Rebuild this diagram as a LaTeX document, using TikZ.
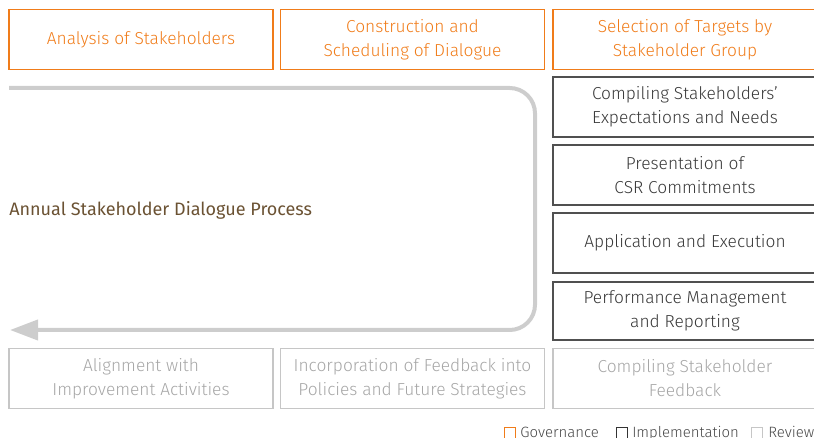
\documentclass[tikz,border=0pt]{standalone}
\usepackage{fontspec}
\setmainfont{Fira Sans}[UprightFont=* Light]
\newfontfamily\procfont{Fira Sans}
\usetikzlibrary{arrows.meta}

\definecolor{govorange}{HTML}{F07C1A}
\definecolor{impldark}{HTML}{505050}
\definecolor{revlight}{HTML}{C6C6C6}
\definecolor{revtext}{HTML}{A6A6A6}
\definecolor{flowgray}{HTML}{CDCDCD}
\definecolor{procbrown}{HTML}{6B5233}

\tikzset{
  stagebox/.style={draw, line width=0.9pt, inner sep=0pt, outer sep=0pt, align=center,
    minimum width=198pt, font=\fontsize{13}{18}\selectfont},
  govbox/.style={stagebox, draw=govorange, text=govorange, minimum height=44.5pt},
  implbox/.style={stagebox, draw=impldark, text=black!78, minimum height=45pt},
  revbox/.style={stagebox, draw=revlight, text=revtext, minimum height=45.5pt},
  legsq/.style={line width=0.8pt, minimum size=8.6pt, inner sep=0pt},
  legtext/.style={font=\fontsize{11.2}{12}\selectfont, text=black!72, anchor=base west, inner sep=0pt}
}

\begin{document}
\begin{tikzpicture}[x=0.75pt, y=-0.75pt]
    \useasboundingbox (0,0) rectangle (814,438);

    % governance row
    \node[govbox] (analysis) at (141,39.5) {Analysis of Stakeholders};
    \node[govbox] (schedule) at (412.5,39.5) {Construction and\\Scheduling of Dialogue};
    \node[govbox] (targets) at (685,39.5) {Selection of Targets by\\Stakeholder Group};

    % implementation column
    \node[implbox] (expect) at (685,107) {Compiling Stakeholders'\\Expectations and Needs};
    \node[implbox] (csr) at (685,175) {Presentation of\\CSR Commitments};
    \node[implbox] (execute) at (685,243) {Application and Execution};
    \node[implbox, minimum height=43.5pt] (perform) at (685,311) {Performance Management\\and Reporting};

    % review row
    \node[revbox] (align) at (141,378.5) {Alignment with\\Improvement Activities};
    \node[revbox] (incorp) at (412.5,378.5) {Incorporation of Feedback into\\Policies and Future Strategies};
    \node[revbox] (feedback) at (685,378.5) {Compiling Stakeholder\\Feedback};

    % the yearly loop
    \coordinate (loopstart) at (9,88);
    \coordinate (loopend) at (10,330);
    \draw[flowgray, line width=3pt, rounded corners=19pt, -{Triangle[length=21pt, width=15pt]}]
        (loopstart) -- (535,88) -- (535,330) -- (loopend);
    \node[anchor=west, inner sep=0pt, text=procbrown, font=\procfont\fontsize{13.5}{16}\selectfont] (process) at (9,210) {Annual Stakeholder Dialogue Process};

    % legend
    \node[legsq, draw=govorange] (leggov) at (510,433) {};
    \node[legtext] (leggovtxt) at (520,437.5) {Governance};
    \node[legsq, draw=black!80] (legimpl) at (622,433) {};
    \node[legtext] (legimpltxt) at (632,437.5) {Implementation};
    \node[legsq, draw=revlight] (legrev) at (757,433) {};
    \node[legtext] (legrevtxt) at (768,437.5) {Review};
\end{tikzpicture}
\end{document}
